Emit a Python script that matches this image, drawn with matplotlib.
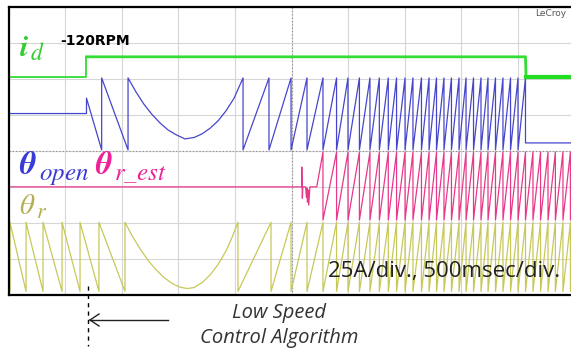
import matplotlib.pyplot as plt
from matplotlib.lines import Line2D

# scope settings: 500 msec/div in x, 25 A/div for i_d, angles in electrical degrees
sec_per_div = 0.5
amp_per_div = 25.0

# i_d (A)
id_t = [0.0, 0.689, 0.689, 4.567, 4.572, 5.0]
id_amp = [0.0, 0.0, 14.0, 14.0, 0.0, 0.0]

# theta_r: reverse rotation (-120 RPM) before the algorithm starts
theta_r_neg_resets = [0.013, 0.155, 0.305, 0.473, 0.632, 0.799, 1.029]
theta_r_curve_t = [1.029, 1.091, 1.162, 1.232, 1.303, 1.374, 1.444, 1.515, 1.577,
                   1.639, 1.709, 1.780, 1.851, 1.921, 1.974, 2.027]
theta_r_curve_deg = [360, 290, 222, 162, 113, 72, 42, 22, 15,
                     20, 45, 85, 140, 210, 280, 360]
theta_r_early_resets = [2.027, 2.319]

# theta_open
open_flat_deg = 182
open_jump_deg = 259
open_neg_resets = [0.689, 0.823, 1.056]
open_curve_t = [1.056, 1.126, 1.197, 1.268, 1.338, 1.409, 1.480, 1.559,
                1.639, 1.709, 1.780, 1.851, 1.921, 1.992, 2.072]
open_curve_deg = [360, 290, 228, 177, 135, 100, 76, 55,
                  62, 80, 108, 145, 195, 258, 360]
open_early_resets = [2.072, 2.301]
open_end_t = 4.567
open_end_deg = 35

# theta_r_est
est_flat_deg = 176
est_glitch_t = [2.584, 2.590, 2.591, 2.596, 2.600, 2.625, 2.632, 2.637, 2.641, 2.646,
                2.652, 2.663, 2.723, 2.778]
est_glitch_deg = [176, 176, 281, 116, 176, 176, 120, 170, 95, 160, 79, 176, 176, 360]

# resets shared by the fast rising sawtooth of all angle traces
fast_resets = [2.496, 2.637, 2.778, 2.898, 2.999, 3.100, 3.193, 3.276, 3.355, 3.428,
               3.503, 3.573, 3.648, 3.715, 3.781, 3.847, 3.913, 3.980, 4.042, 4.108,
               4.174, 4.236, 4.302, 4.368, 4.435, 4.501, 4.567, 4.633, 4.700, 4.766,
               4.831, 4.898, 4.964, 5.030]


def ramps(resets, rising=True):
    lo, hi = (0, 360) if rising else (360, 0)
    t, v = [], []
    for a, b in zip(resets[:-1], resets[1:]):
        t += [a, b]
        v += [lo, hi]
    return t, v


def to_div(deg, base, span):
    return [base + d / 360.0 * span for d in deg]


# theta_r (yellow)
yr_t, yr_v = [0.0, theta_r_neg_resets[0]], [15, 0]
t, v = ramps(theta_r_neg_resets, rising=False)
yr_t += t; yr_v += v
yr_t += theta_r_curve_t; yr_v += theta_r_curve_deg
t, v = ramps(theta_r_early_resets + fast_resets)
yr_t += t; yr_v += v

# theta_open (blue)
bo_t = [0.0, open_neg_resets[0], open_neg_resets[0], open_neg_resets[1]]
bo_v = [open_flat_deg, open_flat_deg, open_jump_deg, 0]
t, v = ramps(open_neg_resets[1:], rising=False)
bo_t += t; bo_v += v
bo_t += open_curve_t; bo_v += open_curve_deg
t, v = ramps(open_early_resets + [r for r in fast_resets if r <= open_end_t])
bo_t += t; bo_v += v
bo_t += [open_end_t, 5.1]; bo_v += [open_end_deg, open_end_deg]

# theta_r_est (magenta)
me_t = [0.0] + est_glitch_t
me_v = [est_flat_deg] + est_glitch_deg
t, v = ramps([r for r in fast_resets if r >= est_glitch_t[-1]])
me_t += t; me_v += v

plt.rcParams['mathtext.fontset'] = 'stix'
fig = plt.figure(figsize=(5.71, 3.53), dpi=100)
W, H = 571.0, 353.0
ax = fig.add_axes([8.5 / W, 1 - 295 / H, 566 / W, 288 / H])
ax.set_xlim(0, 10)
ax.set_ylim(-4, 4)
ax.set_xticks(range(11))
ax.set_yticks(range(-4, 5))
ax.tick_params(length=0, labelbottom=False, labelleft=False)
ax.grid(True, color='#d6d6d6', lw=0.8)
ax.axvline(5, color='#8a8a8a', lw=0.8, ls=(0, (1, 2)))
ax.axhline(0, color='#8a8a8a', lw=0.8, ls=(0, (1, 2)))
for s in ['top', 'left', 'bottom']:
    ax.spines[s].set_linewidth(1.6)
ax.spines['right'].set_visible(False)

xd = lambda ts: [x / sec_per_div for x in ts]

ax.plot(xd(yr_t), to_div(yr_v, -3.9, 1.92), color='#c8c85a', lw=0.9)
ax.plot(xd(me_t), to_div(me_v, -1.92, 1.89), color='#e8388a', lw=0.9)
ax.plot(xd(bo_t), to_div(bo_v, 0.03, 2.0), color='#4646cc', lw=0.9)
id_div = [2.056 + a / amp_per_div for a in id_amp]
ax.plot(xd(id_t[:3]), id_div[:3], color='#33dd33', lw=1.3)
ax.plot(xd(id_t[2:5]), id_div[2:5], color='#33dd33', lw=2.0)
ax.plot(xd(id_t[4:]), id_div[4:], color='#22dd22', lw=3.0)

fx = lambda px: px / W
fy = lambda py: 1 - py / H

fig.text(fx(19), fy(56), r'$\boldsymbol{i}$', color='#33cc33', fontsize=22)
fig.text(fx(30), fy(60), r'$d$', color='#33cc33', fontsize=17)
fig.text(fx(60), fy(41), '-120RPM', fontsize=10, fontweight='bold', va='center')
fig.text(fx(19), fy(174), r'$\boldsymbol{\theta}$', color='#3a3ad8', fontsize=23)
fig.text(fx(39), fy(180), r'$open$', color='#3a3ad8', fontsize=18)
fig.text(fx(95), fy(174), r'$\boldsymbol{\theta}$', color='#ee2299', fontsize=23)
fig.text(fx(114), fy(180), r'$r\_est$', color='#ee2299', fontsize=18)
fig.text(fx(19), fy(214), r'$\theta$', color='#b5b055', fontsize=21)
fig.text(fx(36), fy(218), r'$r$', color='#b5b055', fontsize=16)
fig.text(fx(328), fy(271), '25A/div., 500msec/div.', fontsize=16, va='center',
         family='Open Sans', color='#222222')
fig.text(fx(535), fy(13), 'LeCroy', fontsize=6.5, color='#555555', va='center')

fig.add_artist(Line2D([fx(88), fx(88)], [fy(286), fy(346)], color='black',
                      lw=1.0, ls=(0, (3, 3))))
fig.add_artist(Line2D([fx(90), fx(168)], [fy(320), fy(320)], color='#222222', lw=1.0))
fig.add_artist(Line2D([fx(90), fx(99)], [fy(320), fy(314)], color='#222222', lw=1.0))
fig.add_artist(Line2D([fx(90), fx(99)], [fy(320), fy(326)], color='#222222', lw=1.0))
fig.text(fx(279), fy(313), 'Low Speed', fontsize=14.5, style='italic', ha='center',
         va='center', family='Open Sans', color='#333333')
fig.text(fx(279), fy(338), 'Control Algorithm', fontsize=14.5, style='italic',
         ha='center', va='center', family='Open Sans', color='#333333')

fig.savefig('out.png', dpi=100, facecolor='white')
